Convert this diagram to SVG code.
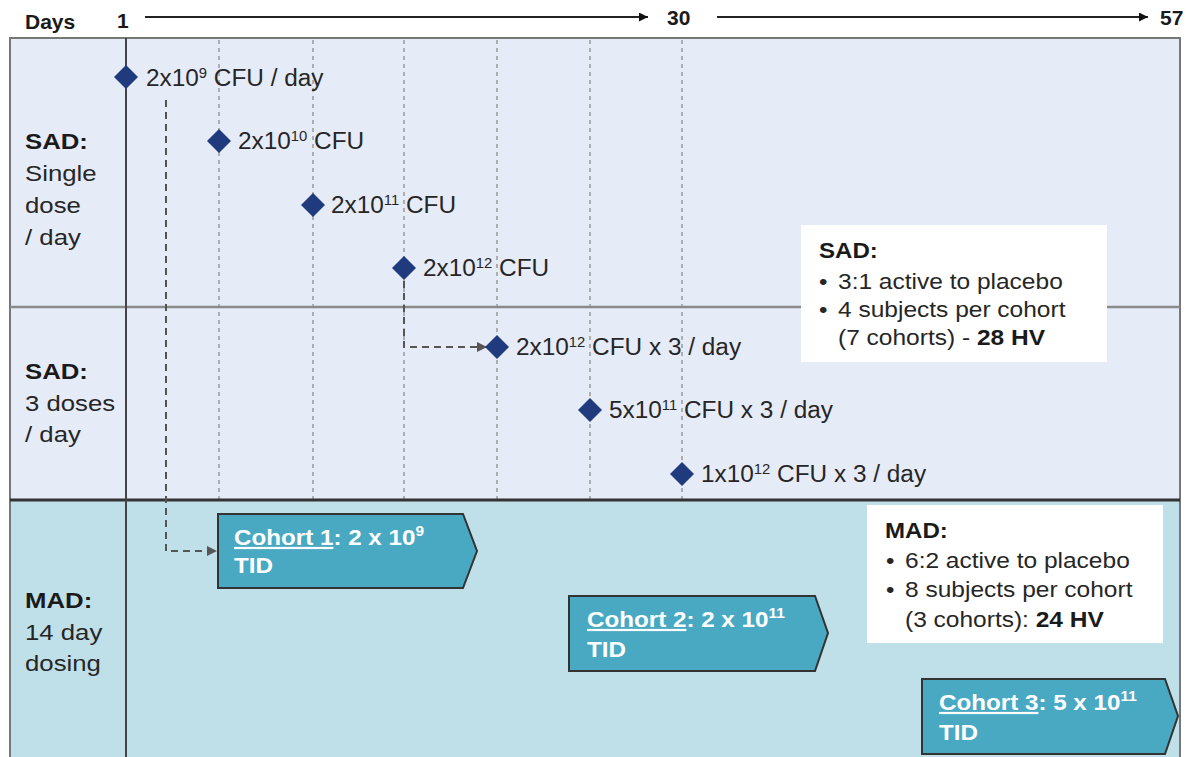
<svg xmlns="http://www.w3.org/2000/svg" width="1194" height="757" viewBox="0 0 1194 757">
<defs>
<style>
.t{font-family:"Liberation Sans",Arial,sans-serif;fill:#262626;font-size:23px}
.b{font-weight:bold;fill:#1a1a1a}
.sup{font-size:14px}
.hd{font-family:"Liberation Sans",Arial,sans-serif;font-weight:bold;font-size:21px;fill:#1a1a1a}
.grid{stroke:#9a9a9a;stroke-width:1.5;stroke-dasharray:4 4;fill:none}
.dia{fill:#1f3b7d}
.conn{fill:none;stroke:#555;stroke-width:2;stroke-dasharray:7 5}
.cohort{fill:#49a9c3;stroke:#333;stroke-width:2}
.ct{font-family:"Liberation Sans",Arial,sans-serif;font-weight:bold;font-size:22px;fill:#fff}
.csup{font-size:14px}
.box{fill:#fff}
.bt{font-size:21.5px}
</style>
<marker id="ah" viewBox="0 0 10 10" refX="10" refY="5" markerWidth="6" markerHeight="5" orient="auto"><path d="M0,0 L10,5 L0,10 z" fill="#555"/></marker>
<marker id="axh" viewBox="0 0 10 10" refX="10" refY="5" markerWidth="5.5" markerHeight="4.5" orient="auto"><path d="M0,0 L10,5 L0,10 z" fill="#111"/></marker>
</defs>
<rect x="0" y="0" width="1194" height="757" fill="#fff"/>

<g id="axis">
<text class="hd" x="25" y="29">Days</text>
<text class="hd" x="117" y="28">1</text>
<line x1="145" y1="17" x2="648" y2="17" stroke="#222" stroke-width="2" marker-end="url(#axh)"/>
<text class="hd" x="667" y="25">30</text>
<line x1="717" y1="17" x2="1148" y2="17" stroke="#222" stroke-width="2" marker-end="url(#axh)"/>
<text class="hd" x="1160" y="25">57</text>
</g>

<g id="lanes">
<rect x="10" y="38" width="1170" height="462" fill="#e6ebf8"/>
<rect x="10" y="500" width="1170" height="257" fill="#c0e0e9"/>
<line x1="10" y1="38" x2="1180" y2="38" stroke="#777" stroke-width="2"/>
<line x1="10" y1="37" x2="10" y2="757" stroke="#777" stroke-width="2"/>
<line x1="1180" y1="37" x2="1180" y2="757" stroke="#777" stroke-width="2"/>
<g class="grid">
<line x1="219" y1="40" x2="219" y2="500"/>
<line x1="313" y1="40" x2="313" y2="500"/>
<line x1="404" y1="40" x2="404" y2="500"/>
<line x1="497" y1="40" x2="497" y2="500"/>
<line x1="590" y1="40" x2="590" y2="500"/>
<line x1="682" y1="40" x2="682" y2="500"/>
</g>
<line x1="10" y1="307" x2="1180" y2="307" stroke="#8a8a8a" stroke-width="2.5"/>
<line x1="10" y1="500" x2="1180" y2="500" stroke="#333" stroke-width="3"/>
<line x1="126" y1="38" x2="126" y2="757" stroke="#444" stroke-width="2"/>
</g>

<g id="lane-labels" class="t">
<text transform="translate(25 149) scale(1.12 1)" class="b">SAD:</text>
<text transform="translate(25 181) scale(1.12 1)">Single</text>
<text transform="translate(25 213) scale(1.12 1)">dose</text>
<text transform="translate(25 245) scale(1.12 1)">/ day</text>
<text transform="translate(25 379) scale(1.12 1)" class="b">SAD:</text>
<text transform="translate(25 411) scale(1.12 1)">3 doses</text>
<text transform="translate(25 442) scale(1.12 1)">/ day</text>
<text transform="translate(25 608) scale(1.12 1)" class="b">MAD:</text>
<text transform="translate(25 640) scale(1.12 1)">14 day</text>
<text transform="translate(25 671) scale(1.12 1)">dosing</text>
</g>

<g id="connectors">
<path class="conn" d="M166,100 V551 H217" marker-end="url(#ah)"/>
<path class="conn" d="M404,281 V347 H487" marker-end="url(#ah)"/>
</g>

<g id="dose1">
<path class="dia" d="M126,65 L138,77 L126,89 L114,77 Z"/>
<text class="t" transform="translate(146 86) scale(1.06 1)">2x10<tspan class="sup" dy="-8">9</tspan><tspan dy="8"> CFU / day</tspan></text>
</g>
<g id="dose2">
<path class="dia" d="M219,129 L231,141 L219,153 L207,141 Z"/>
<text class="t" transform="translate(238 149) scale(1.06 1)">2x10<tspan class="sup" dy="-8">10</tspan><tspan dy="8"> CFU</tspan></text>
</g>
<g id="dose3">
<path class="dia" d="M313,193 L325,205 L313,217 L301,205 Z"/>
<text class="t" transform="translate(331 213) scale(1.06 1)">2x10<tspan class="sup" dy="-8">11</tspan><tspan dy="8"> CFU</tspan></text>
</g>
<g id="dose4">
<path class="dia" d="M404,256 L416,268 L404,280 L392,268 Z"/>
<text class="t" transform="translate(423 276) scale(1.06 1)">2x10<tspan class="sup" dy="-8">12</tspan><tspan dy="8"> CFU</tspan></text>
</g>
<g id="dose5">
<path class="dia" d="M497,335 L509,347 L497,359 L485,347 Z"/>
<text class="t" transform="translate(516 355) scale(1.06 1)">2x10<tspan class="sup" dy="-8">12</tspan><tspan dy="8"> CFU x 3 / day</tspan></text>
</g>
<g id="dose6">
<path class="dia" d="M590,398 L602,410 L590,422 L578,410 Z"/>
<text class="t" transform="translate(609 418) scale(1.06 1)">5x10<tspan class="sup" dy="-8">11</tspan><tspan dy="8"> CFU x 3 / day</tspan></text>
</g>
<g id="dose7">
<path class="dia" d="M682,462 L694,474 L682,486 L670,474 Z"/>
<text class="t" transform="translate(701 482) scale(1.06 1)">1x10<tspan class="sup" dy="-8">12</tspan><tspan dy="8"> CFU x 3 / day</tspan></text>
</g>

<g id="sad-info">
<rect class="box" x="801" y="225" width="306" height="137"/>
<g class="t bt">
<text class="b" transform="translate(819 258) scale(1.12 1)">SAD:</text>
<text transform="translate(819 289) scale(1.12 1)">•</text>
<text transform="translate(838 289) scale(1.14 1)">3:1 active to placebo</text>
<text transform="translate(819 317) scale(1.12 1)">•</text>
<text transform="translate(838 317) scale(1.14 1)">4 subjects per cohort</text>
<text transform="translate(838 345) scale(1.14 1)">(7 cohorts) - <tspan class="b">28 HV</tspan></text>
</g>
</g>

<g id="mad-info">
<rect class="box" x="867" y="505" width="296" height="138"/>
<g class="t bt">
<text class="b" transform="translate(885 538) scale(1.12 1)">MAD:</text>
<text transform="translate(886 568) scale(1.12 1)">•</text>
<text transform="translate(905 568) scale(1.14 1)">6:2 active to placebo</text>
<text transform="translate(886 597) scale(1.12 1)">•</text>
<text transform="translate(905 597) scale(1.14 1)">8 subjects per cohort</text>
<text transform="translate(905 627) scale(1.14 1)">(3 cohorts): <tspan class="b">24 HV</tspan></text>
</g>
</g>

<g id="cohort1">
<polygon class="cohort" points="218,514 463,514 477,551 463,588 218,588"/>
<text class="ct" transform="translate(234 545) scale(1.1 1)"><tspan text-decoration="underline">Cohort 1</tspan>: 2 x 10<tspan class="csup" dy="-9">9</tspan></text>
<text class="ct" transform="translate(234 573) scale(1.1 1)">TID</text>
</g>
<g id="cohort2">
<polygon class="cohort" points="569,596 815,596 828,633 815,671 569,671"/>
<text class="ct" transform="translate(587 627) scale(1.1 1)"><tspan text-decoration="underline">Cohort 2</tspan>: 2 x 10<tspan class="csup" dy="-9">11</tspan></text>
<text class="ct" transform="translate(587 657) scale(1.1 1)">TID</text>
</g>
<g id="cohort3">
<polygon class="cohort" points="922,679 1165,679 1178,716 1165,754 922,754"/>
<text class="ct" transform="translate(939 710) scale(1.1 1)"><tspan text-decoration="underline">Cohort 3</tspan>: 5 x 10<tspan class="csup" dy="-9">11</tspan></text>
<text class="ct" transform="translate(939 740) scale(1.1 1)">TID</text>
</g>
</svg>
